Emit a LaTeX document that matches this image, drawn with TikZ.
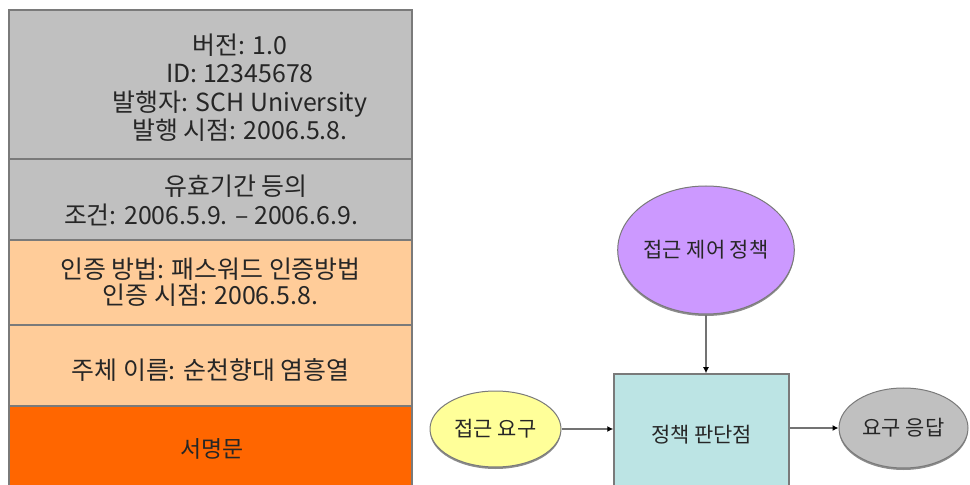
\documentclass[tikz,border=0pt]{standalone}
\usepackage{fontspec}
\setmainfont{Noto Sans CJK KR}
\usetikzlibrary{arrows.meta,shapes.geometric,shadows}
\definecolor{cgray}{HTML}{C0C0C0}
\definecolor{cpeach}{HTML}{FFCC99}
\definecolor{corange}{HTML}{FF6600}
\definecolor{cpurple}{HTML}{CC99FF}
\definecolor{cyellow}{HTML}{FFFF99}
\definecolor{ccyan}{HTML}{BCE4E4}
\definecolor{cedge}{HTML}{7A7A7A}
\tikzset{
  x=1bp, y=-1bp,
  blk/.style={rectangle, draw=cedge, line width=1.5bp, minimum width=403bp, inner sep=0pt},
  blktxt/.style={align=center, font=\fontsize{25}{28.5}\selectfont, text=black!85, inner sep=0pt},
  oval/.style={ellipse, draw=cedge, line width=1bp, inner sep=0pt,
    font=\fontsize{21}{24}\selectfont, text=black!85,
    drop shadow={shadow xshift=0bp, shadow yshift=-2bp, opacity=0.45, fill=black}},
  arr/.style={draw=black!55, line width=1.5bp, -{Latex[length=6bp,width=6bp,black]}}
}
\begin{document}
\begin{tikzpicture}
\useasboundingbox (0,0) rectangle (970,485);
\clip (0,0) rectangle (970,485);
% certificate stack
\node[blk, fill=cgray, minimum height=149bp] (s1) at (210.5,84.5) {};
\node[blk, fill=cgray, minimum height=81bp] (s2) at (210.5,199.5) {};
\node[blk, fill=cpeach, minimum height=85bp] (s3) at (210.5,282.5) {};
\node[blk, fill=cpeach, minimum height=81bp] (s4) at (210.5,365.5) {};
\node[blk, fill=corange, minimum height=89bp] (s5) at (210.5,450.5) {};
\node[blktxt] (t1) at (240,87.5) {버전: 1.0\\ID: 12345678\\발행자: SCH University\\발행 시점: 2006.5.8.};
\node[blktxt] (t2a) at (236,186) {유효기간 등의};
\node[blktxt] (t2b) at (211,215) {조건: 2006.5.9. – 2006.6.9.};
\node[blktxt, font=\fontsize{25}{26}\selectfont] (t3) at (210.5,282) {인증 방법: 패스워드 인증방법\\인증 시점: 2006.5.8.};
\node[blktxt] (t4) at (210.5,370) {주체 이름: 순천향대 염흥열};
\node[blktxt, font=\fontsize{23}{26}\selectfont] (t5) at (212,449) {서명문};
% access control
\node[oval, fill=cpurple, minimum width=152bp, minimum height=128bp] (pol) at (706,250) {접근 제어 정책};
\node[rectangle, draw=cedge, line width=1.5bp, fill=ccyan, minimum width=175bp, minimum height=122bp,
  font=\fontsize{21}{24}\selectfont, text=black!85] (pdp) at (701.5,435) {정책 판단점};
\node[oval, fill=cyellow, minimum width=131bp, minimum height=76bp] (req) at (495.5,429) {접근 요구};
\node[oval, fill=cgray, minimum width=129bp, minimum height=80bp] (resp) at (903.5,428) {요구 응답};
\draw[arr] (pol.south) -- (pol.south |- pdp.north);
\draw[arr] (req.east) -- (req.east -| pdp.west);
\draw[arr] (pdp.east |- resp.west) -- (resp.west);
\end{tikzpicture}
\end{document}
